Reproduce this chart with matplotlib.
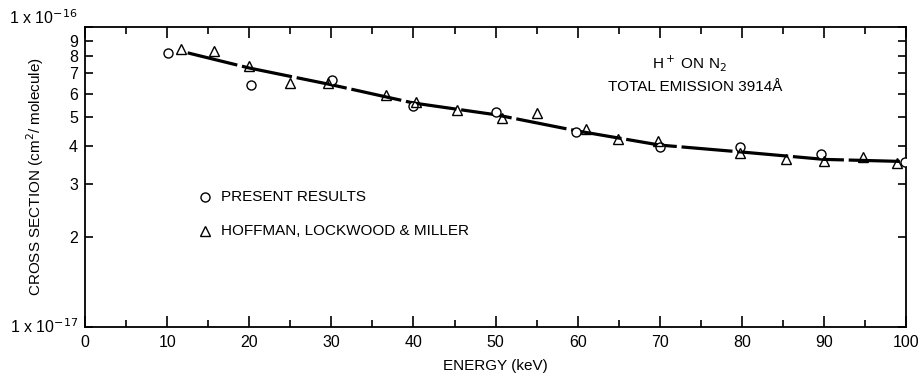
import matplotlib
matplotlib.use('Agg')
import matplotlib.pyplot as plt
from matplotlib.ticker import FixedLocator, NullLocator

plt.rcParams['font.family'] = ['Liberation Sans', 'DejaVu Sans']

# valeurs en unites de 1e-17 cm2/molecule
present_x = [10.1, 20.2, 30.1, 40.0, 50.1, 59.8, 70.0, 79.8, 89.6, 99.8]
present_y = [8.19, 6.41, 6.66, 5.45, 5.21, 4.47, 3.98, 3.98, 3.77, 3.55]

hoffman_x = [11.7, 15.7, 20.0, 25.0, 29.6, 36.6, 40.3, 45.3, 50.8, 55.1,
             61.0, 64.9, 69.8, 79.8, 85.4, 90.0, 94.8, 98.9]
hoffman_y = [8.45, 8.30, 7.41, 6.51, 6.50, 5.94, 5.62, 5.29, 4.97, 5.17,
             4.57, 4.23, 4.17, 3.80, 3.63, 3.58, 3.69, 3.52]

fit_x = [12.5, 20, 30, 40, 50, 60, 70, 80, 90, 100]
fit_y = [8.20, 7.30, 6.42, 5.58, 5.10, 4.50, 4.04, 3.83, 3.62, 3.56]

y_ticks = [1, 2, 3, 4, 5, 6, 7, 8, 9, 10]
y_labels = ['1 x 10$^{-17}$', '2', '3', '4', '5', '6', '7', '8', '9', '1 x 10$^{-16}$']

fig = plt.figure(figsize=(9.2, 3.75), dpi=100)
ax = fig.add_axes([0.0924, 0.128, 0.8926, 0.80])

ax.plot(fit_x, fit_y, color='black', lw=2.3, linestyle=(0, (16, 1.5)))
ax.plot(present_x, present_y, 'o', mfc='white', mec='black', ms=6.5, mew=1.0, zorder=3)
ax.plot(hoffman_x, hoffman_y, '^', mfc='none', mec='black', ms=7, mew=1.0, zorder=3)

ax.set_yscale('log')
ax.set_xlim(0, 100)
ax.set_ylim(1, 10)
ax.yaxis.set_major_locator(FixedLocator(y_ticks))
ax.yaxis.set_minor_locator(NullLocator())
ax.set_yticklabels(y_labels)
ax.set_xticks(range(0, 101, 10))
ax.set_xticks(range(5, 100, 10), minor=True)

ax.tick_params(axis='both', which='both', direction='in', top=True, right=True,
               labelsize=11.5, width=1.2)
ax.tick_params(axis='x', which='major', length=8, pad=6)
ax.tick_params(axis='x', which='minor', length=5)
ax.tick_params(axis='y', which='major', length=6, pad=5)
for s in ax.spines.values():
    s.set_linewidth(1.3)

# decale le label du haut (1 x 10^-16) vers le haut
top_lab = ax.get_yticklabels()[-1]
top_lab.set_verticalalignment('bottom')
bot_lab = ax.get_yticklabels()[0]
bot_lab.set_verticalalignment('center')

ax.set_xlabel('ENERGY (keV)', fontsize=11, labelpad=6)
ax.set_ylabel('CROSS SECTION (cm$^2$/ molecule)', fontsize=11)
ax.yaxis.set_label_coords(-0.048, 0.5)

# legende
ax.plot([0.146], [0.433], 'o', mfc='white', mec='black', ms=6.5, mew=1.0,
        transform=ax.transAxes, clip_on=False)
ax.text(0.166, 0.433, 'PRESENT RESULTS', transform=ax.transAxes,
        fontsize=11, va='center')
ax.plot([0.146], [0.32], '^', mfc='none', mec='black', ms=7, mew=1.0,
        transform=ax.transAxes, clip_on=False)
ax.text(0.166, 0.32, 'HOFFMAN, LOCKWOOD & MILLER', transform=ax.transAxes,
        fontsize=11, va='center')

ax.text(0.736, 0.88, 'H$^+$ ON N$_2$', transform=ax.transAxes,
        fontsize=11, ha='center', va='center')
ax.text(0.743, 0.80, 'TOTAL EMISSION 3914Å', transform=ax.transAxes,
        fontsize=11, ha='center', va='center')

fig.savefig('out.png', dpi=100)
